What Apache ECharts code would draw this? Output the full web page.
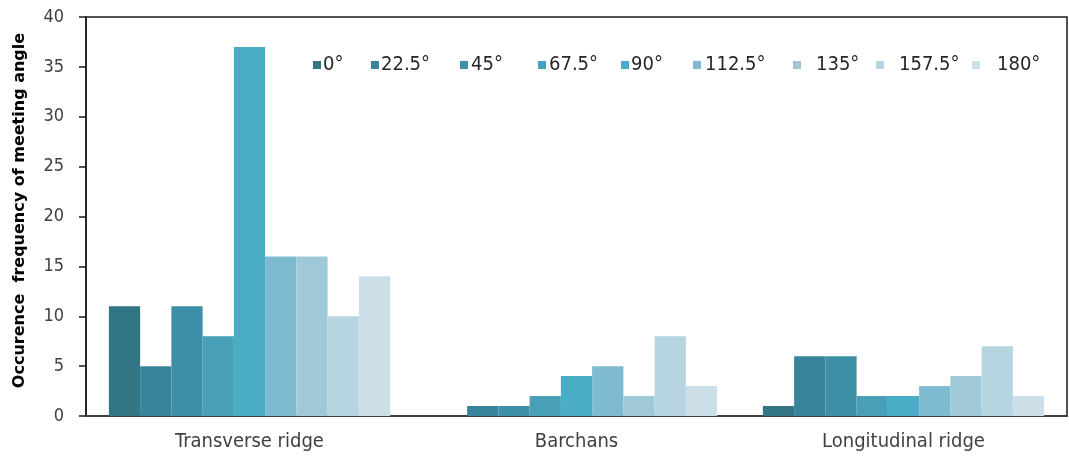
<!DOCTYPE html>
<html>
<head>
<meta charset="utf-8">
<script src="https://cdn.jsdelivr.net/npm/echarts@6/dist/echarts.min.js"></script>
<style>html,body{margin:0;padding:0;background:#fff}#c{width:1069px;height:459px}</style>
</head>
<body>
<div id="c"></div>
<script>
const categories = ['Transverse ridge', 'Barchans', 'Longitudinal ridge'];
const angles = ['0°', '22.5°', '45°', '67.5°', '90°', '112.5°', '135°', '157.5°', '180°'];
const s0 = [11, 0, 1];
const s22_5 = [5, 1, 6];
const s45 = [11, 1, 6];
const s67_5 = [8, 2, 2];
const s90 = [37, 4, 2];
const s112_5 = [16, 5, 3];
const s135 = [16, 2, 4];
const s157_5 = [10, 8, 7];
const s180 = [14, 3, 2];
const seriesValues = [s0, s22_5, s45, s67_5, s90, s112_5, s135, s157_5, s180];
const colors = ['#327585', '#38849A', '#3D90A8', '#479FB8', '#4BACC6', '#7FBBD0', '#A0C9D8', '#B7D5E1', '#CCDFE8'];
const yTicks = { min: 0, max: 40, interval: 5 };

// legend layout (positions only)
const legendLeft = [313, 371, 460, 538, 621, 693, 793, 876, 972];
const legendTextPad = [-3, -3, -2, -2, -3, -1, 10, 10, 12];

const font = "'DejaVu Sans Condensed', 'DejaVu Sans', sans-serif";
const chart = echarts.init(document.getElementById('c'));
chart.setOption({
  animation: false,
  color: colors,
  grid: { left: 86, right: 2, top: 17, bottom: 43, show: true, borderColor: '#1a1a1a', borderWidth: 1.5, containLabel: false },
  legend: angles.map((a, i) => ({
    left: legendLeft[i], top: 55, itemWidth: 8, itemHeight: 8, icon: 'rect',
    padding: 0,
    textStyle: { fontFamily: font, fontSize: 20, color: '#262626', padding: [0, 0, 0, legendTextPad[i]] },
    data: [a]
  })),
  xAxis: {
    type: 'category', data: categories,
    axisLine: { lineStyle: { color: '#404040', width: 2 } },
    axisTick: { show: false },
    axisLabel: { fontFamily: font, fontSize: 20, color: '#404040', margin: 16 }
  },
  yAxis: {
    type: 'value', min: yTicks.min, max: yTicks.max, interval: yTicks.interval,
    name: 'Occurence  frequency of meeting angle', nameLocation: 'middle', nameGap: 58,
    nameTextStyle: { fontFamily: "'DejaVu Sans', sans-serif", fontSize: 16, fontWeight: 'bold', color: '#000', padding: [0, 0, 0, 12] },
    axisLine: { show: true, lineStyle: { color: '#1a1a1a', width: 1.5 } },
    axisTick: { show: true, length: 7, lineStyle: { color: '#1a1a1a', width: 1.5 } },
    axisLabel: { fontFamily: font, fontSize: 18, color: '#404040', margin: 22 },
    splitLine: { show: false }
  },
  series: angles.map((a, i) => ({
    name: a, type: 'bar', data: seriesValues[i],
    barGap: '0%', barCategoryGap: '14%',
    itemStyle: { color: colors[i] }
  }))
});
</script>
</body>
</html>
